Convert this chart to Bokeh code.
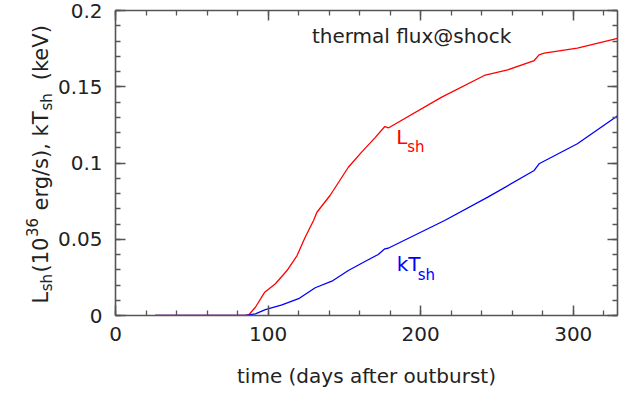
import math
from bokeh.plotting import figure
from bokeh.layouts import row
from bokeh.models import (Label, LinearAxis, Range1d, SingleIntervalTicker,
                          CustomJSTickFormatter)
from bokeh.core.properties import value
from bokeh.embed import file_html
from bokeh.resources import INLINE

# ---- data ----
days_L = [26, 85, 87.4, 91.7, 97.8, 104.8, 112.4, 119.0, 124.3, 129.8, 132.0,
          140.6, 152.6, 161.3, 170.0, 176.5, 179.1, 213.5, 241.7, 257.0, 274.4,
          277.6, 281.0, 302.7, 327.7, 329.0]
lum_sh = [0.0, 0.0, 0.0005, 0.0054, 0.0153, 0.0208, 0.0295, 0.0393, 0.0513,
          0.0623, 0.0677, 0.0787, 0.0972, 0.1071, 0.1165, 0.1239, 0.1231,
          0.1430, 0.1574, 0.1611, 0.1672, 0.1709, 0.1720, 0.1753, 0.1814, 0.1817]

days_T = [26, 85.2, 91.7, 98.2, 109.1, 120.0, 130.9, 141.8, 152.6, 163.5,
          172.2, 176.5, 178.7, 215.7, 244.0, 274.4, 277.6, 302.7, 327.7, 329.0]
kt_sh = [0.0, 0.0, 0.0011, 0.0039, 0.0070, 0.0110, 0.0182, 0.0225, 0.0295,
         0.0354, 0.0400, 0.0437, 0.0441, 0.0623, 0.0776, 0.0951, 0.0995,
         0.1126, 0.1300, 0.1310]

x_limits = [0, 329]
y_limits = [0, 0.2]
x_tick_step = 100
y_tick_step = 0.05

title_text = "thermal flux@shock"
x_title = "time (days after outburst)"
# y title pieces: (text, role, gap before in px)
# role: n=normal, b=subscript, p=superscript
y_title_pieces = [("L", "n", 0), ("sh", "b", 0.5), ("(10", "n", 1.5),
                  ("36", "p", 0.5), ("erg/s), kT", "n", 7.5),
                  ("sh", "b", 0.5), ("(keV)", "n", 13)]

FONT = "DejaVu Sans"
AX = "#555555"
TXT = "#222222"
W = 631
H = 393
W_LEFT = 54
B_TOP = 10
B_BOTTOM = 78

p = figure(width=W - W_LEFT, height=H, output_backend="svg",
           toolbar_location=None,
           x_range=Range1d(*x_limits), y_range=Range1d(*y_limits),
           x_axis_type=None, y_axis_type=None,
           min_border_left=113 - W_LEFT, min_border_right=14,
           min_border_top=B_TOP, min_border_bottom=B_BOTTOM)
p.outline_line_color = None
p.background_fill_color = "white"
p.border_fill_color = "white"


def make_axis(interval, labels, standoff):
    ax = LinearAxis(
        ticker=SingleIntervalTicker(interval=interval, num_minor_ticks=5),
        axis_line_color=AX, axis_line_width=1.6,
        major_tick_line_color=AX, major_tick_line_width=1.5,
        minor_tick_line_color=AX, minor_tick_line_width=1.3,
        major_tick_in=10, major_tick_out=0, minor_tick_in=5, minor_tick_out=0,
        major_label_standoff=standoff,
        major_label_text_font=FONT, major_label_text_color=TXT,
        major_label_text_font_size="20px" if labels else "0px",
    )
    if labels:
        ax.formatter = CustomJSTickFormatter(
            code="return String(parseFloat(tick.toFixed(3)));")
    else:
        ax.formatter = CustomJSTickFormatter(code="return '';")
    return ax


xb = make_axis(x_tick_step, True, 11)
xb.axis_label = x_title
xb.axis_label_text_font = FONT
xb.axis_label_text_font_size = "20px"
xb.axis_label_text_font_style = "normal"
xb.axis_label_text_color = TXT
xb.axis_label_standoff = 20
p.add_layout(xb, "below")
p.add_layout(make_axis(y_tick_step, True, 13), "left")
p.add_layout(make_axis(x_tick_step, False, 0), "above")
p.add_layout(make_axis(y_tick_step, False, 0), "right")

p.line(days_L, lum_sh, line_color="#ff0000", line_width=1.3)
p.line(days_T, kt_sh, line_color="#0000ff", line_width=1.3)

# title inside plot
p.add_layout(Label(x=128.7, y=0.1751, text=title_text, text_font=FONT,
                   text_font_size="20px", text_color=TXT))

# curve labels
p.add_layout(Label(x=184, y=0.1095, text="L", text_font=FONT,
                   text_font_size="20px", text_color="#ff0000"))
p.add_layout(Label(x=184, y=0.1095, x_offset=11, y_offset=-7, text="sh",
                   text_font=FONT, text_font_size="15px", text_color="#ff0000"))
p.add_layout(Label(x=184.3, y=0.0262, text="kT", text_font=FONT,
                   text_font_size="20px", text_color="#0000ff"))
p.add_layout(Label(x=184.3, y=0.0262, x_offset=21, y_offset=-8, text="sh",
                   text_font=FONT, text_font_size="15px", text_color="#0000ff"))

# ---- left strip holding the rotated y title (pixel coordinates, y up) ----
lf = figure(width=W_LEFT, height=H, output_backend="svg",
            toolbar_location=None, x_range=Range1d(0, W_LEFT),
            y_range=Range1d(B_BOTTOM, H - B_TOP),
            x_axis_type=None, y_axis_type=None,
            min_border_left=0, min_border_right=0,
            min_border_top=B_TOP, min_border_bottom=B_BOTTOM)
lf.outline_line_color = None
lf.background_fill_color = "white"
lf.border_fill_color = "white"

# approximate DejaVu Sans advance widths (em units)
adv = {"L": .557, "s": .521, "h": .634, "(": .39, ")": .39, "0": .636,
       "1": .636, "3": .636, "6": .636, " ": .318, "e": .615, "r": .411,
       "g": .635, "/": .337, ",": .318, "k": .579, "T": .611, "V": .684}
sizes = {"n": 21, "b": 15, "p": 15}
shifts = {"n": 0, "b": 6, "p": -9}
base_x = 40
ypos = H - 303
for txt, role, gap in y_title_pieces:
    size = sizes[role]
    ypos += gap
    lf.text(x=[base_x + shifts[role]], y=[ypos], text=[txt], angle=math.pi / 2,
            text_font=value(FONT), text_font_size=value(f"{size}px"),
            text_color=TXT, text_align="left", text_baseline="alphabetic")
    ypos += sum(adv.get(c, 0.6) for c in txt) * size

open("out.html", "w").write(file_html(row(lf, p), INLINE))
